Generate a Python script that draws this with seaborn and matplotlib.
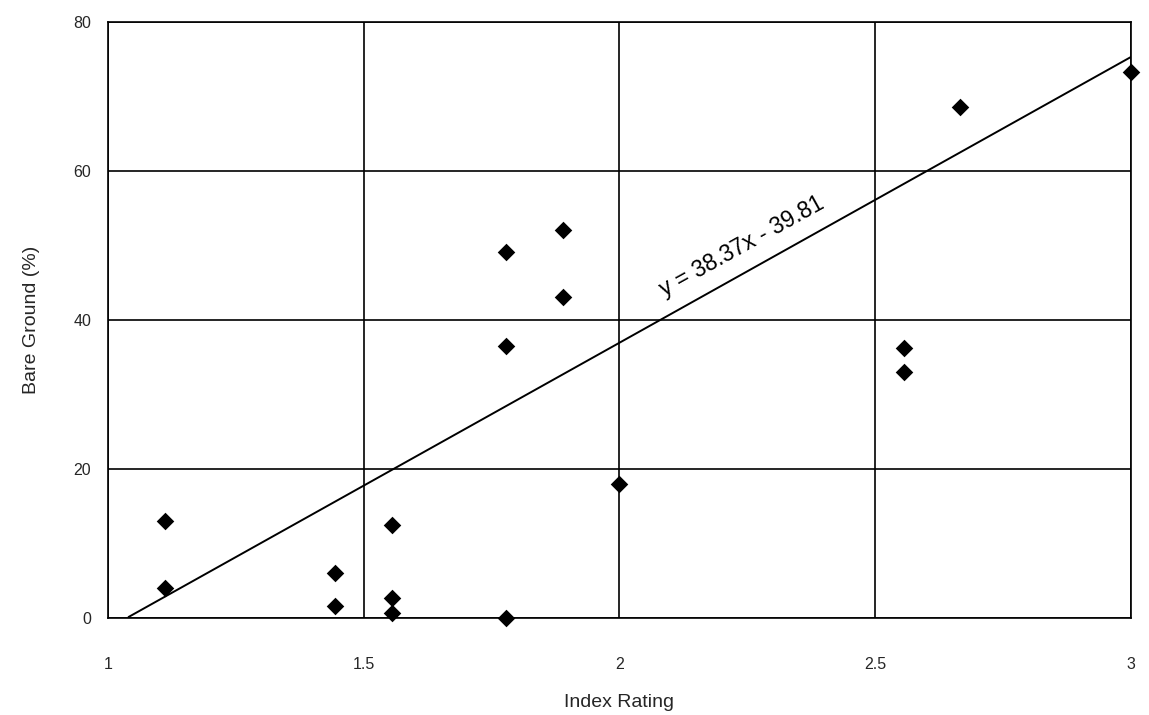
import numpy as np
import pandas as pd
import matplotlib
matplotlib.use("Agg")
import matplotlib.pyplot as plt
import seaborn as sns

# Observations: index rating vs. bare ground cover
index_rating = [1.111, 1.111, 1.444, 1.444, 1.556, 1.556, 1.556,
                1.778, 1.778, 1.778, 1.889, 1.889, 2.0,
                2.556, 2.556, 2.667, 3.0]
bare_ground = [13.0, 4.0, 6.0, 1.6, 12.5, 2.7, 0.7,
               49.1, 36.5, 0.0, 52.1, 43.1, 17.9,
               36.2, 33.0, 68.6, 73.3]

# Linear trend (as reported on the chart)
slope = 38.37
intercept = -39.81

x_ticks = [1, 1.5, 2, 2.5, 3]
x_tick_labels = ["1", "1.5", "2", "2.5", "3"]
y_ticks = [0, 20, 40, 60, 80]

sns.set_style("white")
plt.rcParams["font.family"] = ["Liberation Sans", "DejaVu Sans"]

fig = plt.figure(figsize=(11.49, 7.15), dpi=100)
ax = fig.add_axes([0.094, 0.136, 0.890, 0.833])

df = pd.DataFrame({"Index Rating": index_rating, "Bare Ground (%)": bare_ground})

# Trend line, clipped to the visible range
x_line = np.linspace(1, 3, 200)
y_line = slope * x_line + intercept
trend = pd.DataFrame({"x": x_line, "y": y_line})
trend = trend[trend["y"] >= 0]
sns.lineplot(data=trend, x="x", y="y", ax=ax, color="black", linewidth=1.4,
             zorder=3)

sns.scatterplot(data=df, x="Index Rating", y="Bare Ground (%)", ax=ax,
                marker="D", s=80, color="black", edgecolor="black",
                linewidth=0, zorder=4, clip_on=False)

ax.set_xlim(1, 3)
ax.set_ylim(0, 80)
ax.set_xticks(x_ticks)
ax.set_xticklabels(x_tick_labels)
ax.set_yticks(y_ticks)
ax.grid(True, color="black", linewidth=1.2)
ax.set_axisbelow(True)
for side in ax.spines.values():
    side.set_color("black")
    side.set_linewidth(1.2)

ax.tick_params(axis="x", length=0, pad=28, labelsize=11.5)
ax.tick_params(axis="y", length=0, pad=12, labelsize=11.5)
ax.set_xlabel("Index Rating", fontsize=14, labelpad=16)
ax.set_ylabel("Bare Ground (%)", fontsize=14, labelpad=24)

# Equation label sits just above the trend line
x_lab = 2.24
ax.text(x_lab, slope * x_lab + intercept + 3.8,
        f"y = {slope:.2f}x - {abs(intercept):.2f}",
        rotation=29, rotation_mode="anchor", ha="center", va="center",
        fontsize=16.5, color="black", zorder=5,
        transform=ax.transData)

fig.savefig("out.png", dpi=100, facecolor="white")
